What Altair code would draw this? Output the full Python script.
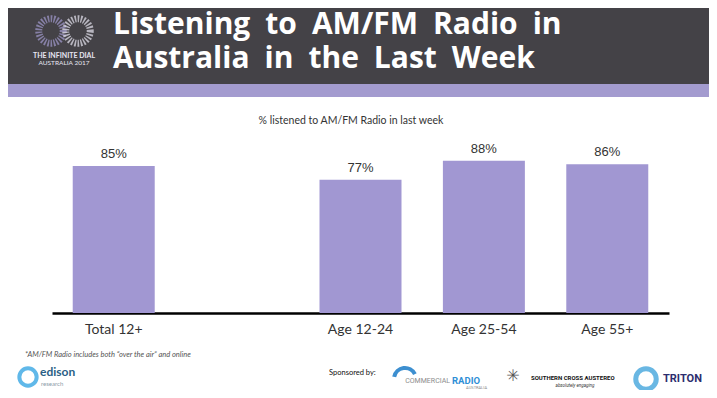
import altair as alt
import pandas as pd

# ---- data ----
categories = ["Total 12+", " ", "Age 12-24", "Age 25-54", "Age 55+"]
bar_cats = ["Total 12+", "Age 12-24", "Age 25-54", "Age 55+"]
values = [85, 77, 88, 86]
labels = ["85%", "77%", "88%", "86%"]

title_lines = ["Listening to AM/FM Radio in", "Australia in the Last Week"]
subtitle = "% listened to AM/FM Radio in last week"
footnote = "*AM/FM Radio includes both \u201cover the air\u201d and online"

df = pd.DataFrame({"cat": bar_cats, "value": values, "label": labels})

W, H = 617, 173
OX, OY = 52, 140  # plot origin in image pixels

BAR = "#a197d2"
DARK = "#444247"
STRIPE = "#a39bcf"

one = alt.Data(values=[{"k": 1}])


def px(X):
    return alt.value(X - OX)


def py(Y):
    return alt.value(Y - OY)


def txt(text, X, Y, size, color, font="Lato", weight="normal", align="left",
        baseline="middle", style="normal"):
    return alt.Chart(one).mark_text(
        text=text, fontSize=size, color=color, font=font, fontWeight=weight,
        align=align, baseline=baseline, fontStyle=style
    ).encode(x=px(X), y=py(Y))


def rect(X1, Y1, X2, Y2, color):
    return alt.Chart(one).mark_rect(color=color).encode(
        x=px(X1), x2=px(X2), y=py(Y1), y2=py(Y2))


xscale = alt.Scale(domain=categories, paddingInner=0.3355, paddingOuter=0.168)
yscale = alt.Scale(domain=[0, 100])

bars = alt.Chart(df).mark_bar(color=BAR).encode(
    x=alt.X("cat:N", scale=xscale, sort=categories,
            axis=alt.Axis(title=None, labelAngle=0, ticks=False, grid=False,
                          domainColor="#000000", domainWidth=2.5,
                          labelFontSize=14, labelColor="#333333",
                          labelFont="Lato", labelPadding=9)),
    y=alt.Y("value:Q", scale=yscale, axis=None),
)

bar_text = alt.Chart(df).mark_text(
    dy=-12, fontSize=13, color="#333333", font="Liberation Sans"
).encode(
    x=alt.X("cat:N", scale=xscale, sort=categories),
    y=alt.Y("value:Q", scale=yscale),
    text="label:N",
)

# header
header = rect(-20, -20, 760, 84, DARK)
stripe = rect(-20, 84, 760, 97, STRIPE)
wide = [t.replace(" ", "\u2002") for t in title_lines]
t1 = txt(wide[0], 113, 34, 30, "#ffffff", font="Open Sans", weight="bold",
         baseline="alphabetic")
t2 = txt(wide[1], 113, 68, 30, "#ffffff", font="Open Sans", weight="bold",
         baseline="alphabetic")

# infinity logo
ring1 = alt.Chart(one).mark_point(shape="circle", filled=False, size=600,
                                  stroke=STRIPE, strokeWidth=7,
                                  strokeDash=[1.6, 1.4]).encode(x=px(51), y=py(31))
ring2 = alt.Chart(one).mark_point(shape="circle", filled=False, size=600,
                                  stroke="#e8e6f2", strokeWidth=7,
                                  strokeDash=[1.6, 1.4]).encode(x=px(78), y=py(31))
logo1 = txt("THE INFINITE DIAL", 64, 56, 7, "#e8e6f2", align="center", weight="bold")
logo2 = txt("AUSTRALIA 2017", 64, 63, 6.5, "#e8e6f2", align="center")

sub = txt(subtitle, 351, 121, 10.5, "#333333", align="center")

# footer
foot = txt(footnote, 25, 355, 7.5, "#555555", style="italic")
ed_ring = alt.Chart(one).mark_point(shape="circle", filled=False, size=300,
                                    stroke="#1e9be0", strokeWidth=4).encode(x=px(28), y=py(377))
ed1 = txt("edison", 40, 372, 12, "#2a5f86", weight="bold")
ed2 = txt("research", 41, 384, 6, "#8a9aa8")
spons = txt("Sponsored by:", 329, 373, 7.5, "#111111")

cr_arc = alt.Chart(one).mark_arc(color="#3d8fd0", innerRadius=9, outerRadius=13,
                                 theta=4.9, theta2=7.4).encode(x=px(405), y=py(379))
cr1 = txt("COMMERCIAL", 450, 381, 7, "#8c8c8c", align="right", font="Roboto")
cr2 = txt("RADIO", 452, 381, 9.5, "#2f8fd6", weight="bold", align="left", font="Roboto")
cr3 = txt("AUSTRALIA", 487, 388, 4, "#888888", align="right", font="Roboto")

sca_icon = txt("\u2733", 513, 376, 16, "#555555", align="center", font="DejaVu Sans")
sca1 = txt("SOUTHERN CROSS AUSTEREO", 531, 378, 6, "#111111", weight="bold",
           font="Roboto")
sca2 = txt("absolutely engaging", 575, 386, 4.5, "#333333", align="center",
           style="italic", font="Roboto")

tr_ring = alt.Chart(one).mark_point(shape="circle", filled=False, size=420,
                                    stroke="#2a9ad8", strokeWidth=5).encode(x=px(646), y=py(379))
tr1 = txt("TRITON", 663, 379, 11, "#2c2e6e", weight="bold", font="Roboto")

chart = alt.layer(
    header, stripe, t1, t2, ring1, ring2, logo1, logo2, sub,
    bars, bar_text,
    foot, ed_ring, ed1, ed2, spons, cr_arc, cr1, cr2, cr3,
    sca_icon, sca1, sca2, tr_ring, tr1,
).properties(
    width=W, height=H,
    autosize=alt.AutoSizeParams(type="none"),
    padding={"left": 44, "top": 132, "right": 40, "bottom": 77},
).configure(background="#ffffff", view=alt.ViewConfig(stroke=None))

chart.save("out.html", embed_options={"renderer": "svg", "actions": False})
